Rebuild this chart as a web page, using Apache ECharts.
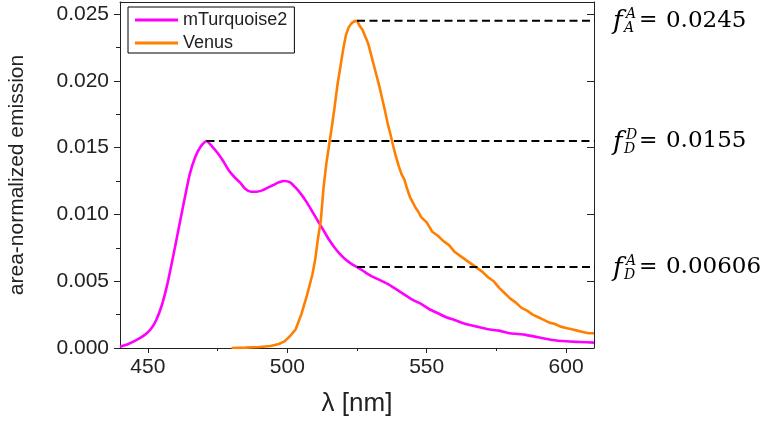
<!DOCTYPE html>
<html>
<head>
<meta charset="utf-8">
<script src="https://cdn.jsdelivr.net/npm/echarts@6/dist/echarts.min.js"></script>
<style>
  html, body { margin: 0; padding: 0; background: #fff; }
  #chart { width: 769px; height: 422px; }
</style>
</head>
<body>
<div id="chart"></div>
<script>
// Emission spectra (area-normalized) of the donor and acceptor
const mTurquoiseLambda = [440, 443, 446, 449, 451, 453, 455, 457, 459, 461, 463, 465, 467, 469, 471,
  473, 475, 477, 479, 481, 483, 485, 487, 489, 491, 493, 495, 497, 499, 501, 503, 505, 507, 509,
  511, 513, 515, 517, 519, 521, 523, 525, 527, 530, 533, 536, 539, 542, 545, 548, 551, 554, 557,
  560, 564, 568, 572, 576, 580, 585, 590, 595, 600, 605, 610];
const mTurquoiseValues = [0.0001, 0.0003, 0.0006, 0.0010, 0.0014, 0.0021, 0.0032, 0.0048, 0.0068,
  0.0089, 0.0110, 0.0130, 0.0143, 0.0151, 0.0155,
  0.0151, 0.0146, 0.0140, 0.0133, 0.0128, 0.0124, 0.0119, 0.0117, 0.0117, 0.0118, 0.0120, 0.0122,
  0.0124, 0.0125, 0.0124, 0.0120, 0.0115, 0.0109, 0.0102, 0.0095, 0.0088, 0.0081, 0.0075, 0.0070,
  0.0066, 0.0063, 0.00606, 0.0058, 0.0054, 0.0051, 0.0048, 0.0044, 0.0040, 0.0036, 0.0033, 0.0029,
  0.0026, 0.0023, 0.0021, 0.0018, 0.0016, 0.0014, 0.0013, 0.0011, 0.0010, 0.0008, 0.0006, 0.0005,
  0.00045, 0.0004];

const venusLambda = [480, 485, 490, 494, 497, 499, 501, 503, 505, 507, 509, 510, 511, 512, 513, 514,
  515, 516, 517, 518, 519, 520, 521, 522, 523, 524, 525, 526, 527, 528, 529, 530, 531, 532, 533,
  534, 535, 536, 537, 538, 539, 540, 541, 542, 543, 544, 545, 546, 547, 548, 550, 552, 554, 556,
  558, 560, 562, 564, 566, 568, 570, 572, 574, 576, 578, 580, 582, 584, 586, 588, 590, 592, 594,
  596, 598, 600, 602, 604, 606, 608, 610];
const venusValues = [0.0000, 0.00003, 0.00008, 0.00015, 0.0003, 0.0005, 0.0009, 0.0014, 0.0025,
  0.0039, 0.0055, 0.0066, 0.0082, 0.0095, 0.0120, 0.0138, 0.0152, 0.0166, 0.0181, 0.0197, 0.0210,
  0.0223, 0.0234, 0.0240, 0.0243, 0.02445, 0.0245, 0.0241, 0.0238, 0.0233, 0.0228, 0.0220, 0.0212,
  0.0204, 0.0196, 0.0187, 0.0178, 0.0168, 0.0160, 0.0151, 0.0143, 0.0136, 0.0130, 0.0126, 0.0119,
  0.0113, 0.0109, 0.0105, 0.0102, 0.0098, 0.0094, 0.0087, 0.0084, 0.0080, 0.0077, 0.0072, 0.0069,
  0.0066, 0.0063, 0.0060, 0.0057, 0.0053, 0.0050, 0.0045, 0.0041, 0.0037, 0.0034, 0.0030, 0.0028,
  0.0025, 0.0023, 0.0021, 0.0019, 0.0018, 0.0016, 0.0015, 0.0014, 0.0013, 0.0012, 0.0011, 0.0011];

// Reference levels: start wavelength, value, superscript, subscript, printed value
const levelStart = [525, 471, 525];
const levelValue = [0.0245, 0.0155, 0.00606];
const levelSup = ['A', 'D', 'A'];
const levelSub = ['A', 'D', 'D'];
const levelText = ['0.0245', '0.0155', '0.00606'];
const levelEnd = 615;

// Axis ticks
const xRange = [440, 610];
const yRange = [0, 0.0259];
const xMajorTicks = [450, 500, 550, 600];
const xMinorTicks = [475, 525, 575];
const yMajorTicks = [0, 0.005, 0.010, 0.015, 0.020, 0.025];
const yMinorTicks = [0.0025, 0.0075, 0.0125, 0.0175, 0.0225];

const zip = (xs, ys) => xs.map((x, i) => [x, ys[i]]);

const axisColor = '#222';
const sansFont = '"Liberation Sans", Arial, sans-serif';

const chart = echarts.init(document.getElementById('chart'), null, { renderer: 'canvas' });

const levelSeries = levelValue.map((v, i) => ({
  name: 'level' + i,
  type: 'line',
  xAxisIndex: 0,
  yAxisIndex: 0,
  data: [[levelStart[i], v], [levelEnd, v]],
  symbol: 'none',
  clip: false,
  silent: true,
  z: 5,
  lineStyle: { color: '#000', width: 2, type: [8, 4.5] }
}));

chart.setOption({
  animation: false,
  backgroundColor: '#fff',
  grid: { left: 120, top: 2, width: 474, height: 346, containLabel: false, outerBoundsMode: 'none' },
  legend: {
    data: ['mTurquoise2', 'Venus'],
    orient: 'vertical',
    left: 128,
    top: 7,
    padding: [4, 7, 1, 7],
    itemGap: 5,
    itemWidth: 43,
    itemHeight: 3,
    icon: 'rect',
    borderColor: '#000',
    borderWidth: 1,
    textStyle: { fontFamily: sansFont, fontSize: 18, lineHeight: 18, color: '#222' }
  },
  xAxis: [
    {
      type: 'value', position: 'bottom', min: xRange[0], max: xRange[1],
      axisLine: { show: true, onZero: false, lineStyle: { color: axisColor, width: 1 } },
      axisTick: { show: true, customValues: xMajorTicks, length: 5, lineStyle: { color: axisColor } },
      axisLabel: { show: true, customValues: xMajorTicks, fontFamily: sansFont, fontSize: 21, color: '#222', margin: 9 },
      splitLine: { show: false },
      name: 'λ [nm]', nameLocation: 'middle', nameGap: 43,
      nameTextStyle: { fontFamily: sansFont, fontSize: 26, color: '#222' }
    },
    {
      type: 'value', position: 'bottom', min: xRange[0], max: xRange[1],
      axisLine: { show: false, onZero: false },
      axisTick: { show: true, customValues: xMinorTicks, length: 3, lineStyle: { color: axisColor } },
      axisLabel: { show: false },
      splitLine: { show: false }
    },
    {
      type: 'value', position: 'top', min: xRange[0], max: xRange[1],
      axisLine: { show: true, onZero: false, lineStyle: { color: axisColor, width: 1 } },
      axisTick: { show: false },
      axisLabel: { show: false },
      splitLine: { show: false }
    }
  ],
  yAxis: [
    {
      type: 'value', position: 'left', min: yRange[0], max: yRange[1],
      axisLine: { show: true, onZero: false, lineStyle: { color: axisColor, width: 1 } },
      axisTick: { show: true, customValues: yMajorTicks, length: 6, lineStyle: { color: axisColor } },
      axisLabel: {
        show: true, customValues: yMajorTicks, fontFamily: sansFont, fontSize: 21, color: '#222', margin: 11,
        formatter: v => v.toFixed(3)
      },
      splitLine: { show: false },
      name: 'area-normalized emission', nameLocation: 'middle', nameGap: 92,
      nameTextStyle: { fontFamily: sansFont, fontSize: 21, color: '#222' }
    },
    {
      type: 'value', position: 'left', min: yRange[0], max: yRange[1],
      axisLine: { show: false, onZero: false },
      axisTick: { show: true, customValues: yMinorTicks, length: 4, lineStyle: { color: axisColor } },
      axisLabel: { show: false },
      splitLine: { show: false }
    },
    {
      type: 'value', position: 'right', min: yRange[0], max: yRange[1],
      axisLine: { show: true, onZero: false, lineStyle: { color: axisColor, width: 1 } },
      axisTick: { show: true, inside: true, customValues: yMajorTicks, length: 7, lineStyle: { color: axisColor } },
      axisLabel: { show: false },
      splitLine: { show: false }
    }
  ],
  series: [
    {
      name: 'mTurquoise2',
      type: 'line',
      xAxisIndex: 0,
      yAxisIndex: 0,
      data: zip(mTurquoiseLambda, mTurquoiseValues),
      symbol: 'none',
      smooth: 0.2,
      color: '#ff00ff',
      lineStyle: { color: '#ff00ff', width: 2.6 },
      z: 3
    },
    {
      name: 'Venus',
      type: 'line',
      xAxisIndex: 0,
      yAxisIndex: 0,
      data: zip(venusLambda, venusValues),
      symbol: 'none',
      color: '#ff8000',
      lineStyle: { color: '#ff8000', width: 2.6 },
      z: 3
    }
  ].concat(levelSeries)
});

// Annotations f_sub^sup = value at the end of each dashed level line
const serif = '"DejaVu Serif", "Liberation Serif", serif';
const annotations = levelValue.map((v, i) => {
  const p = chart.convertToPixel({ xAxisIndex: 0, yAxisIndex: 0 }, [levelEnd, v]);
  return {
    type: 'group',
    x: p[0],
    y: p[1],
    children: [
      { type: 'text', x: 5, y: 2, style: { text: 'f', fontFamily: serif, fontStyle: 'italic', fontSize: 26, fill: '#000', verticalAlign: 'middle' } },
      { type: 'text', x: 18, y: -6, style: { text: levelSup[i], fontFamily: serif, fontStyle: 'italic', fontSize: 14, fill: '#000', verticalAlign: 'middle' } },
      { type: 'text', x: 16, y: 8, style: { text: levelSub[i], fontFamily: serif, fontStyle: 'italic', fontSize: 14, fill: '#000', verticalAlign: 'middle' } },
      { type: 'text', x: 31, y: 0, style: { text: '=', fontFamily: serif, fontSize: 22, fill: '#000', verticalAlign: 'middle' } },
      { type: 'text', x: 58, y: 0, style: { text: levelText[i], fontFamily: serif, fontSize: 23, fill: '#000', verticalAlign: 'middle' } }
    ]
  };
});
chart.setOption({ graphic: annotations });
</script>
</body>
</html>
